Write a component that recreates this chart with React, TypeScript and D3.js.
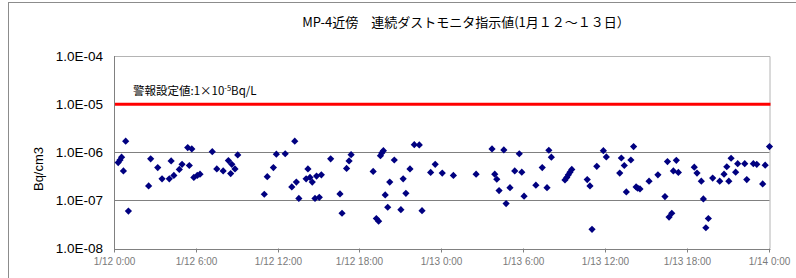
import React, { useRef, useEffect } from 'react';
import * as d3 from 'd3';

const titleText = 'MP-4近傍　連続ダストモニタ指示値(1月１２～１３日）';
const yLabel = 'Bq/cm3';
const alarmLevel = 1e-5;
const yTicks = [1e-4, 1e-5, 1e-6, 1e-7, 1e-8];
const xTicks = ['1/12 00:00', '1/12 06:00', '1/12 12:00', '1/12 18:00', '1/13 00:00', '1/13 06:00', '1/13 12:00', '1/13 18:00', '1/14 00:00'];

const times = [
  '1/12 00:14', '1/12 00:22', '1/12 00:29', '1/12 00:37', '1/12 00:47', '1/12 00:59', '1/12 02:28', '1/12 02:37',
  '1/12 03:08', '1/12 03:27', '1/12 03:59', '1/12 04:07', '1/12 04:19', '1/12 04:43', '1/12 04:55', '1/12 05:20',
  '1/12 05:27', '1/12 05:38', '1/12 05:47', '1/12 06:02', '1/12 06:14', '1/12 07:08', '1/12 07:28', '1/12 07:56',
  '1/12 08:19', '1/12 08:29', '1/12 08:34', '1/12 08:48', '1/12 09:00', '1/12 10:57', '1/12 11:10', '1/12 11:37',
  '1/12 11:50', '1/12 12:29', '1/12 12:58', '1/12 13:11', '1/12 13:18', '1/12 13:29', '1/12 14:01', '1/12 14:09',
  '1/12 14:18', '1/12 14:28', '1/12 14:40', '1/12 14:47', '1/12 14:59', '1/12 15:08', '1/12 15:49', '1/12 16:30',
  '1/12 16:39', '1/12 16:59', '1/12 17:10', '1/12 17:19', '1/12 18:56', '1/12 19:10', '1/12 19:20', '1/12 19:28',
  '1/12 19:34', '1/12 19:41', '1/12 19:49', '1/12 20:00', '1/12 20:09', '1/12 20:29', '1/12 20:58', '1/12 21:08',
  '1/12 21:20', '1/12 21:38', '1/12 21:57', '1/12 22:19', '1/12 22:31', '1/12 23:09', '1/12 23:29', '1/13 00:00',
  '1/13 00:49', '1/13 02:29', '1/13 03:39', '1/13 03:51', '1/13 04:00', '1/13 04:10', '1/13 04:31', '1/13 04:41',
  '1/13 04:58', '1/13 05:19', '1/13 05:39', '1/13 05:50', '1/13 06:00', '1/13 06:52', '1/13 07:20', '1/13 07:41',
  '1/13 07:49', '1/13 08:00', '1/13 09:00', '1/13 09:08', '1/13 09:15', '1/13 09:22', '1/13 09:30', '1/13 10:38',
  '1/13 10:50', '1/13 10:59', '1/13 11:20', '1/13 11:49', '1/13 12:02', '1/13 13:01', '1/13 13:08', '1/13 13:21',
  '1/13 13:30', '1/13 13:50', '1/13 14:02', '1/13 14:13', '1/13 14:20', '1/13 14:30', '1/13 15:10', '1/13 15:49',
  '1/13 16:20', '1/13 16:31', '1/13 16:38', '1/13 16:50', '1/13 16:57', '1/13 17:10', '1/13 17:19', '1/13 18:29',
  '1/13 18:41', '1/13 19:00', '1/13 19:09', '1/13 19:20', '1/13 19:31', '1/13 19:50', '1/13 20:21', '1/13 20:40',
  '1/13 20:52', '1/13 21:01', '1/13 21:11', '1/13 21:31', '1/13 21:40', '1/13 22:11', '1/13 22:20', '1/13 22:49',
  '1/13 23:04', '1/13 23:30', '1/13 23:41', '1/14 00:00',
];

const values = [
  6.1e-7, 6.9e-7, 7.9e-7, 4.1e-7, 1.7e-6, 6.0e-8, 2.0e-7, 7.3e-7,
  4.8e-7, 2.8e-7, 2.8e-7, 6.6e-7, 3.3e-7, 4.4e-7, 5.6e-7, 1.25e-6,
  5.3e-7, 1.17e-6, 3.0e-7, 3.3e-7, 3.5e-7, 1.03e-6, 4.5e-7, 4.1e-7,
  6.7e-7, 3.6e-7, 5.6e-7, 4.5e-7, 8.8e-7, 1.34e-7, 3.1e-7, 4.8e-7,
  9.1e-7, 9.3e-7, 1.9e-7, 1.7e-6, 2.4e-7, 1.1e-7, 2.8e-7, 4.5e-7,
  3.0e-7, 2.4e-7, 1.1e-7, 3.2e-7, 1.16e-7, 3.4e-7, 7.3e-7, 1.36e-7,
  5.4e-8, 4.6e-7, 6.6e-7, 8.9e-7, 4.0e-7, 4.2e-8, 3.7e-8, 8.5e-7,
  9.7e-7, 1.08e-6, 1.3e-7, 7.2e-8, 2.4e-7, 6.9e-7, 6.4e-8, 2.8e-7,
  1.4e-7, 4.5e-7, 1.44e-6, 1.42e-6, 6.1e-8, 3.8e-7, 5.6e-7, 3.7e-7,
  3.3e-7, 3.5e-7, 1.17e-6, 3.5e-7, 2.75e-7, 1.6e-7, 1.12e-6, 8.6e-8,
  1.84e-7, 4.1e-7, 9.3e-7, 3.85e-7, 1.22e-7, 2.07e-7, 4.8e-7, 1.84e-7,
  1.1e-6, 7.9e-7, 2.66e-7, 3.0e-7, 3.4e-7, 3.85e-7, 4.4e-7, 2.7e-7,
  2.0e-7, 2.5e-8, 5.1e-7, 1.08e-6, 8.0e-7, 3.7e-7, 7.6e-7, 5.3e-7,
  1.5e-7, 6.9e-7, 1.31e-6, 1.9e-7, 1.79e-7, 1.73e-7, 2.5e-7, 3.4e-7,
  1.2e-7, 6.4e-7, 4.5e-8, 5.4e-8, 4.1e-7, 6.8e-7, 3.8e-7, 4.9e-7,
  3.7e-7, 2.5e-7, 1.07e-7, 2.7e-8, 4.2e-8, 2.9e-7, 2.5e-7, 3.5e-7,
  5.0e-7, 2.5e-7, 7.5e-7, 3.85e-7, 5.8e-7, 5.8e-7, 2.7e-7, 5.8e-7,
  5.6e-7, 2.2e-7, 5.4e-7, 1.31e-6,
];

const W = 796;
const H = 278;

const App: React.FC = () => {
  const svgRef = useRef<SVGSVGElement>(null);

  useEffect(() => {
    if (!svgRef.current) return;
    const svg = d3.select(svgRef.current);
    svg.selectAll('*').remove();

    const parse = d3.timeParse('%m/%d %H:%M');
    const fmt = d3.timeFormat('%-m/%-d %-H:%M');
    const font = '"Liberation Sans", "Noto Sans CJK JP", sans-serif';
    const jpFont = '"Noto Sans CJK JP", sans-serif';

    const left = 115, right = 769.5, top = 56, bottom = 248.5;

    const x = d3.scaleTime()
      .domain([parse(xTicks[0])!, parse(xTicks[xTicks.length - 1])!])
      .range([left, right]);
    const y = d3.scaleLog().domain([1e-8, 1e-4]).range([bottom, top]);

    // outer frame
    svg.append('rect')
      .attr('x', 8.5).attr('y', 2.5)
      .attr('width', 900).attr('height', 400)
      .attr('fill', 'none').attr('stroke', '#8c8c8c');

    // title
    svg.append('text')
      .attr('x', 466).attr('y', 27)
      .attr('text-anchor', 'middle')
      .style('font-family', jpFont)
      .style('font-size', '13px')
      .attr('fill', '#000')
      .text(titleText);

    // plot border (top/right)
    svg.append('path')
      .attr('d', `M${left},${top + 0.5}H${right + 0.5}V${bottom}`)
      .attr('fill', 'none').attr('stroke', '#b4b4b4');

    // grid lines
    svg.append('g').selectAll('line')
      .data([1e-6, 1e-7])
      .enter().append('line')
      .attr('x1', left).attr('x2', right)
      .attr('y1', d => Math.round(y(d)) + 0.5)
      .attr('y2', d => Math.round(y(d)) + 0.5)
      .attr('stroke', '#808080');

    // alarm line
    svg.append('line')
      .attr('x1', left).attr('x2', right + 1)
      .attr('y1', y(alarmLevel)).attr('y2', y(alarmLevel))
      .attr('stroke', '#ff0000').attr('stroke-width', 3);

    const lab = svg.append('text')
      .attr('x', 133).attr('y', 95)
      .style('font-family', jpFont)
      .style('font-size', '11.5px')
      .attr('fill', '#000');
    lab.append('tspan').text('警報設定値:1×10');
    lab.append('tspan').attr('dy', -4).style('font-size', '7.5px').text('-5');
    lab.append('tspan').attr('dy', 4).text('Bq/L');

    // axes lines
    svg.append('line')
      .attr('x1', left - 0.5).attr('x2', left - 0.5)
      .attr('y1', top).attr('y2', bottom + 0.5)
      .attr('stroke', '#808080');
    svg.append('line')
      .attr('x1', left - 0.5).attr('x2', right + 1)
      .attr('y1', Math.round(bottom) + 0.5).attr('y2', Math.round(bottom) + 0.5)
      .attr('stroke', '#808080');

    // y tick labels
    svg.append('g').selectAll('text')
      .data(yTicks)
      .enter().append('text')
      .attr('x', 103).attr('y', d => y(d))
      .attr('dy', '0.36em')
      .attr('text-anchor', 'end')
      .style('font-family', font)
      .style('font-size', '13.5px')
      .attr('fill', '#000')
      .text(d => d3.format('.1e')(d).replace('e', 'E').replace(/E([+-])(\d)$/, 'E$10$2'));

    // x ticks + labels
    const xg = svg.append('g');
    xTicks.forEach(t => {
      const px = Math.round(x(parse(t)!)) - 0.5;
      xg.append('line')
        .attr('x1', px).attr('x2', px)
        .attr('y1', bottom).attr('y2', bottom + 4)
        .attr('stroke', '#808080');
      xg.append('text')
        .attr('x', px).attr('y', 265)
        .attr('text-anchor', 'middle')
        .style('font-family', font)
        .style('font-size', '10px')
        .attr('fill', '#7a7a7a')
        .text(fmt(parse(t)!));
    });

    // y axis title
    svg.append('text')
      .attr('transform', 'translate(43,169) rotate(-90)')
      .attr('text-anchor', 'middle')
      .style('font-family', font)
      .style('font-size', '13px')
      .attr('fill', '#000')
      .text(yLabel);

    // data markers
    const diamond = d3.symbol(d3.symbolSquare, 26);
    svg.append('g').selectAll('path')
      .data(times.map((t, i) => ({ t: parse(t)!, v: values[i] })))
      .enter().append('path')
      .attr('d', diamond)
      .attr('transform', d => `translate(${x(d.t)},${y(d.v)}) rotate(45)`)
      .attr('fill', '#000080');
  }, []);

  return (
    <svg
      ref={svgRef}
      width={W}
      height={H}
      style={{ position: 'absolute', left: 0, top: 0, background: '#fff' }}
    />
  );
};

export default App;
